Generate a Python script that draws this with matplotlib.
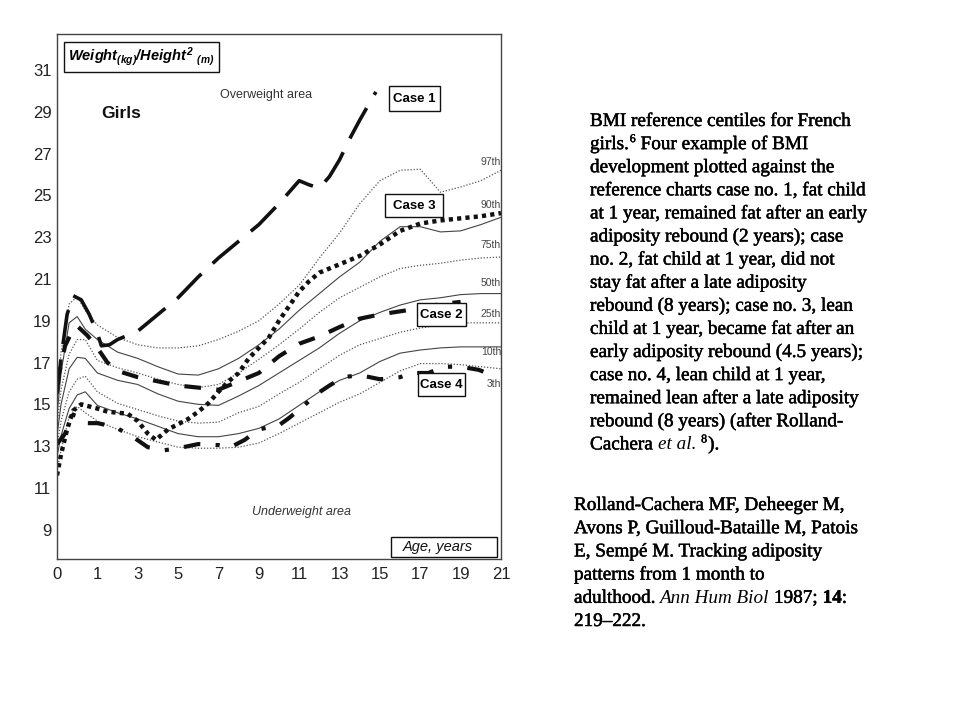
import numpy as np
import matplotlib
matplotlib.use("Agg")
import matplotlib.pyplot as plt
import matplotlib.patheffects as pe
from matplotlib.patches import Rectangle

plt.rcParams['lines.scale_dashes'] = False
plt.rcParams['mathtext.fontset'] = 'custom'
plt.rcParams['mathtext.rm'] = 'Liberation Sans:style=italic:weight=bold'
plt.rcParams['mathtext.it'] = 'Liberation Sans:style=italic:weight=bold'
plt.rcParams['mathtext.bf'] = 'Liberation Sans:style=italic:weight=bold'

# ---------------- data ----------------
x_ticks = [0, 1, 3, 5, 7, 9, 11, 13, 15, 17, 19, 21]
y_ticks = [9, 11, 13, 15, 17, 19, 21, 23, 25, 27, 29, 31]

centile_names = ["97th", "90th", "75th", "50th", "25th", "10th", "3th"]

age_c = [0, 0.1, 0.3, 0.5, 0.7, 1, 2, 3, 4, 5, 6, 7, 8, 9, 10, 11, 12, 13, 14,
         15, 16, 17, 18, 19, 20, 21]
p97 = [15.0, 17.5, 19.8, 20.15, 19.5, 18.8, 18.2, 17.85, 17.7, 17.7, 17.8, 18.1,
       18.5, 19.0, 19.8, 20.7, 22.0, 23.2, 24.6, 25.7, 26.2, 26.25, 25.15, 25.4, 25.7, 26.2]
p90 = [14.5, 16.5, 18.9, 19.2, 18.6, 18.1, 17.5, 17.2, 16.8, 16.45, 16.4, 16.7,
       17.2, 17.85, 18.6, 19.5, 20.3, 21.1, 21.8, 22.8, 23.5, 23.5, 23.25, 23.3, 23.6, 23.95]
p75 = [14.0, 15.7, 17.4, 18.1, 18.1, 17.1, 16.75, 16.5, 16.2, 15.95, 15.8, 15.95,
       16.5, 17.15, 17.85, 18.6, 19.4, 20.1, 20.6, 21.1, 21.5, 21.65, 21.75, 21.9, 22.0, 22.05]
p50 = [13.5, 15.0, 16.7, 17.25, 17.2, 16.5, 16.15, 15.95, 15.5, 15.15, 15.0, 14.95,
       15.4, 15.9, 16.5, 17.1, 17.7, 18.4, 19.0, 19.4, 19.75, 20.0, 20.1, 20.25, 20.3, 20.3]
p25 = [13.0, 14.2, 15.6, 16.2, 16.35, 15.6, 15.05, 14.75, 14.45, 14.2, 14.1, 14.15,
       14.6, 14.9, 15.5, 16.05, 16.7, 17.35, 17.85, 18.15, 18.45, 18.65, 18.8, 18.9, 18.9, 18.9]
p10 = [12.5, 13.5, 14.8, 15.45, 15.6, 14.95, 14.6, 14.3, 13.95, 13.6, 13.45, 13.45,
       13.6, 13.85, 14.3, 14.95, 15.6, 16.15, 16.5, 17.05, 17.45, 17.6, 17.7, 17.75, 17.75, 17.75]
p3 = [11.8, 12.8, 14.4, 14.9, 14.6, 14.2, 13.8, 13.45, 13.2, 12.95, 12.9, 12.9,
      12.95, 13.15, 13.6, 14.1, 14.6, 15.1, 15.5, 16.05, 16.6, 16.95, 16.95, 16.9, 16.8, 16.7]

age_case1 = [0, 0.1, 0.25, 0.4, 0.6, 0.8, 1.0, 1.2, 1.6, 2, 3, 4, 5, 6, 7, 8, 9, 10,
             11, 11.5, 12, 12.5, 13, 13.5, 14, 14.8]
bmi_case1 = [15.5, 17.2, 19.3, 20.2, 20.0, 19.3, 18.4, 17.8, 17.85, 18.1, 18.5, 19.3,
             20.1, 21.1, 22.0, 22.8, 23.6, 24.6, 25.7, 25.5, 25.35, 25.9, 26.7, 27.7, 28.6, 29.95]

age_case2 = [0, 0.2, 0.4, 0.5, 0.75, 1, 1.5, 2, 3, 4, 5, 6, 7, 8, 9, 10, 11, 12, 13,
             14, 15, 16, 17, 18, 19]
bmi_case2 = [16.0, 17.8, 18.6, 18.75, 18.3, 17.7, 17.0, 16.6, 16.3, 16.1, 15.9, 15.8,
             15.7, 16.1, 16.5, 17.3, 17.9, 18.25, 18.7, 19.1, 19.3, 19.45, 19.6, 19.8, 19.9]

age_case3 = [0, 0.1, 0.25, 0.4, 0.6, 1, 1.5, 2, 2.5, 3, 3.5, 3.9, 4.5, 5, 5.5, 6, 6.5,
             7, 7.5, 8, 8.5, 9, 9.5, 10, 10.5, 11, 11.5, 12, 13, 14, 15, 16, 17, 18, 19, 20, 21]
bmi_case3 = [11.6, 12.6, 13.8, 14.7, 15.0, 14.8, 14.65, 14.6, 14.55, 14.2, 13.6, 13.3,
             13.8, 14.05, 14.3, 14.65, 15.05, 15.6, 16.1, 16.5, 17.2, 17.7, 18.2, 19.0,
             19.7, 20.4, 20.9, 21.3, 21.7, 22.1, 22.65, 23.3, 23.65, 23.8, 23.9, 24.0, 24.15]

age_case4 = [0, 0.2, 0.4, 0.55, 0.7, 1, 1.5, 2, 2.75, 3.5, 4.3, 5, 6, 7, 7.6, 8.3, 9,
             10, 10.5, 11.2, 11.8, 12.5, 13.2, 14, 15, 16, 16.6, 17.4, 18.2, 19, 19.9, 20.7]
bmi_case4 = [13.1, 13.6, 14.5, 14.4, 14.1, 14.1, 14.0, 13.85, 13.45, 12.95, 12.8, 12.9,
             13.1, 13.05, 12.95, 13.3, 13.8, 14.0, 14.35, 14.9, 15.45, 15.9, 16.3, 16.4,
             16.2, 16.3, 16.5, 16.5, 16.8, 16.8, 16.65, 16.35]

case_labels = ["Case 1", "Case 2", "Case 3", "Case 4"]

# ---------------- figure ----------------
W, H = 960, 720
fig = plt.figure(figsize=(9.6, 7.2), dpi=100)
fig.patch.set_facecolor('white')

L, R, T, B = 57, 501, 34, 559
ax = fig.add_axes([L / W, 1 - B / H, (R - L) / W, (B - T) / H])


def fwd(a):
    a = np.asarray(a, float)
    return np.where(a <= 1, a, 1 + (a - 1) / 2)


def inv(p):
    p = np.asarray(p, float)
    return np.where(p <= 1, p, 1 + 2 * (p - 1))


ax.set_xscale('function', functions=(fwd, inv))
ax.set_xlim(0, 21)
ax.set_ylim(7.6, 32.72)
ax.set_xticks(x_ticks)
ax.set_xticklabels([str(v) for v in x_ticks])
ax.set_yticks(y_ticks)
ax.set_yticklabels([str(v) for v in y_ticks])
ax.minorticks_off()
ax.tick_params(axis='y', length=0, labelsize=12, colors='#222', pad=4)
ax.tick_params(axis='x', length=0, labelsize=12, colors='#222', pad=6)
for lab in ax.get_xticklabels() + ax.get_yticklabels():
    lab.set_fontfamily('Liberation Sans')
for sp in ax.spines.values():
    sp.set_color('#444')
    sp.set_linewidth(1.0)

# centile curves
cent_vals = [p97, p90, p75, p50, p25, p10, p3]
for i, vals in enumerate(cent_vals):
    if i % 2 == 0:
        ax.plot(age_c, vals, color='#555', lw=0.9, linestyle=(0, (0.9, 1.3)))
    else:
        ax.plot(age_c, vals, color='#444', lw=0.8, linestyle='-')

# cases
ax.plot(age_case1, bmi_case1, color='#111', lw=2.6, linestyle=(0, (25, 11)),
        dash_capstyle='butt')
ax.plot(age_case2, bmi_case2, color='#111', lw=3.0, linestyle=(0, (12, 11)),
        dash_capstyle='butt')
ax.plot(age_case3, bmi_case3, color='#111', lw=3.2, linestyle=(0, (3, 3)),
        dash_capstyle='butt')
ax.plot(age_case4, bmi_case4, color='#111', lw=3.0, linestyle=(0, (12, 11, 3, 11)),
        dash_capstyle='butt')


def P(px, py):
    return ((px - L) / (R - L), (B - py) / (B - T))


def box(x0, y0, x1, y1):
    (ax0, ay1), (ax1, ay0) = P(x0, y0), P(x1, y1)
    ax.add_patch(Rectangle((ax0, ay0), ax1 - ax0, ay1 - ay0, transform=ax.transAxes,
                           fc='white', ec='#111', lw=1.0, zorder=5))


# centile labels
cent_label_y = [162, 205, 245, 283, 314, 352, 384]
for name, py in zip(centile_names, cent_label_y):
    ax.text(*P(501, py), name, transform=ax.transAxes, ha='right', va='center',
            fontsize=7.5, color='#444', family='Liberation Sans')

# case boxes
case_box = [(389, 86, 440, 111), (417, 303, 466, 326), (385, 194, 443, 217),
            (418, 373, 465, 396)]
for lab, (x0, y0, x1, y1) in zip(case_labels, case_box):
    box(x0, y0, x1, y1)
    ax.text(*P((x0 + x1) / 2, (y0 + y1) / 2 + 0.5), lab, transform=ax.transAxes,
            ha='center', va='center', fontsize=9.5, fontweight='bold',
            family='Liberation Sans', zorder=6)

# other annotations
box(64, 42, 219, 72)
ax.text(*P(141, 57), r'$Weight_{(kg)}/Height^{2}\ _{(m)}$', transform=ax.transAxes,
        ha='center', va='center', fontsize=10.5, zorder=6)
ax.text(*P(121, 114), 'Girls', transform=ax.transAxes, ha='center', va='center',
        fontsize=12.5, fontweight='bold', family='Liberation Sans', color='#111')
ax.text(*P(266, 95), 'Overweight area', transform=ax.transAxes, ha='center',
        va='center', fontsize=9, family='Liberation Sans', color='#333')
ax.text(*P(302, 512), 'Underweight area', transform=ax.transAxes, ha='center',
        va='center', fontsize=9, style='italic', family='Liberation Sans', color='#333')
box(391, 537, 497, 557)
ax.text(*P(438, 547), 'Age, years', transform=ax.transAxes, ha='center',
        va='center', fontsize=10.5, style='italic', family='Liberation Sans',
        color='#111', zorder=6)

# ---------------- right-hand text ----------------
renderer = fig.canvas.get_renderer()
stroke = [pe.withStroke(linewidth=0.35, foreground='black')]
SERIF = 'Liberation Serif'
FS = 13.8


def rich_line(x, y, parts):
    cx = x
    for s, kw, gap in parts:
        cx += gap
        kk = dict(fontsize=FS, family=SERIF, color='black')
        dy = 0
        if kw.get('sup'):
            kk['fontsize'] = 8.5
            dy = 7
        if kw.get('italic'):
            kk['style'] = 'italic'
        if kw.get('bold'):
            kk['fontweight'] = 'bold'
        t = fig.text(cx / W, 1 - (y - dy) / H, s, ha='left', va='baseline', **kk)
        if not kw.get('italic'):
            t.set_path_effects(stroke)
        bb = t.get_window_extent(renderer=renderer)
        cx += bb.width


caption = [
    [("BMI reference centiles for French", {}, 0)],
    [("girls.", {}, 0), ("6", {'sup': 1}, 1), ("Four example of BMI", {}, 5)],
    [("development plotted against the", {}, 0)],
    [("reference charts case no. 1, fat child", {}, 0)],
    [("at 1 year, remained fat after an early", {}, 0)],
    [("adiposity rebound (2 years); case", {}, 0)],
    [("no. 2, fat child at 1 year, did not", {}, 0)],
    [("stay fat after a late adiposity", {}, 0)],
    [("rebound (8 years); case no. 3, lean", {}, 0)],
    [("child at 1 year, became fat after an", {}, 0)],
    [("early adiposity rebound (4.5 years);", {}, 0)],
    [("case no. 4, lean child at 1 year,", {}, 0)],
    [("remained lean after a late adiposity", {}, 0)],
    [("rebound (8 years) (after Rolland-", {}, 0)],
    [("Cachera", {}, 0), ("et al.", {'italic': 1}, 5), ("8", {'sup': 1}, 5),
     (").", {}, 1)],
]
for i, parts in enumerate(caption):
    rich_line(590, 126 + 23.1 * i, parts)

reference = [
    [("Rolland-Cachera MF, Deheeger M,", {}, 0)],
    [("Avons P, Guilloud-Bataille M, Patois", {}, 0)],
    [("E, Sempé M. Tracking adiposity", {}, 0)],
    [("patterns from 1 month to", {}, 0)],
    [("adulthood.", {}, 0), ("Ann Hum Biol", {'italic': 1}, 4), ("1987;", {}, 5),
     ("14", {'bold': 1}, 5), (":", {}, 0)],
    [("219–222.", {}, 0)],
]
for i, parts in enumerate(reference):
    rich_line(574, 510 + 23.2 * i, parts)

fig.savefig('out.png', dpi=100, facecolor='white')
